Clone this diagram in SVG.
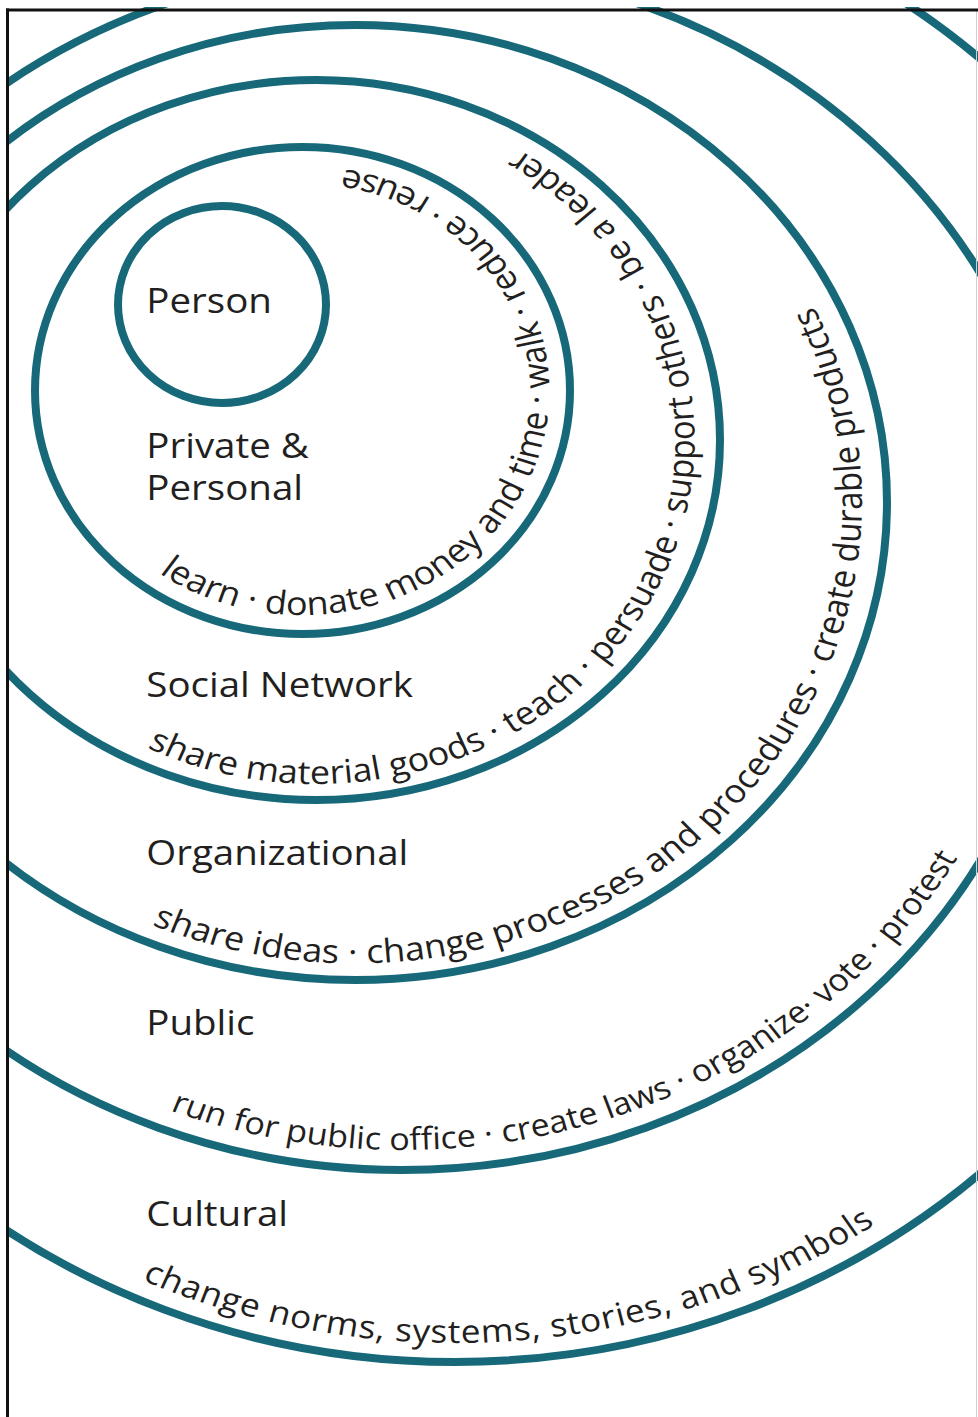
<svg xmlns="http://www.w3.org/2000/svg" width="978" height="1417" viewBox="0 0 978 1417">
<style>
.ring{fill:none;stroke:#17697a;stroke-width:8}
.lbl{font-family:"Open Sans","Noto Sans","Liberation Sans",sans-serif;font-size:35px;fill:#231f20}
.arc{font-family:"Open Sans","Noto Sans","Liberation Sans",sans-serif;fill:#231f20}
</style>
<defs>
<clipPath id="frame"><rect x="7" y="7" width="971" height="1410"/></clipPath>
<path id="p2" d="M144.6,573.3 A224.5,224.5 0 1 0 236,169.4"/>
<path id="p3" d="M133.8,747.8 A344,344 0 1 0 376.3,107.7"/>
<path id="p4" d="M138.1,924.9 A461,461 0 0 0 675.8,206.2"/>
<path id="p5" d="M154.7,1110.5 A583,583 0 0 0 913.3,766.4"/>
<path id="p6" d="M129.1,1280.1 A699,727 0 0 0 948.8,1083.3"/>
</defs>
<rect width="978" height="1417" fill="#ffffff"/>
<g clip-path="url(#frame)">
<g id="person">
<ellipse class="ring" cx="222" cy="304.5" rx="104" ry="98.5"/>
<g transform="scale(1.1,1)"><text class="lbl" x="133" y="313">Person</text></g>
</g>
<g id="private-personal">
<ellipse class="ring" cx="302.5" cy="390.5" rx="267.5" ry="243.5"/>
<g transform="scale(1.1,1)">
<text class="lbl" x="133" y="458">Private &amp;</text>
<text class="lbl" x="133" y="500">Personal</text>
<text class="arc" font-size="32.7"><textPath href="#p2">learn · donate money and time · walk · reduce · reuse</textPath></text>
</g>
</g>
<g id="social-network">
<ellipse class="ring" cx="316" cy="440" rx="404" ry="360"/>
<g transform="scale(1.1,1)">
<text class="lbl" x="133" y="697">Social Network</text>
<text class="arc" font-size="32.6"><textPath href="#p3">share material goods · teach · persuade · support others · be a leader</textPath></text>
</g>
</g>
<g id="organizational">
<ellipse class="ring" cx="355" cy="502.5" rx="532" ry="477.5"/>
<g transform="scale(1.1,1)">
<text class="lbl" x="133" y="865">Organizational</text>
<text class="arc" font-size="32.8"><textPath href="#p4">share ideas · change processes and procedures · create durable products</textPath></text>
</g>
</g>
<g id="public">
<ellipse class="ring" cx="402" cy="567" rx="662" ry="603"/>
<g transform="scale(1.1,1)">
<text class="lbl" x="133" y="1035">Public</text>
<text class="arc" font-size="31"><textPath href="#p5">run for public office · create laws · organize· vote · protest</textPath></text>
</g>
</g>
<g id="cultural">
<ellipse class="ring" cx="455" cy="616" rx="790" ry="746"/>
<g transform="scale(1.1,1)">
<text class="lbl" x="133" y="1226">Cultural</text>
<text class="arc" font-size="32" letter-spacing="0.65"><textPath href="#p6">change norms, systems, stories, and symbols</textPath></text>
</g>
</g>
</g>
<g id="frame-lines">
<line x1="976.5" y1="10" x2="976.5" y2="1417" stroke="#cfcfcf" stroke-width="1"/>
<line x1="6" y1="10" x2="978" y2="10" stroke="#111" stroke-width="3"/>
<line x1="7.5" y1="8.5" x2="7.5" y2="1417" stroke="#111" stroke-width="3"/>
</g>
</svg>
